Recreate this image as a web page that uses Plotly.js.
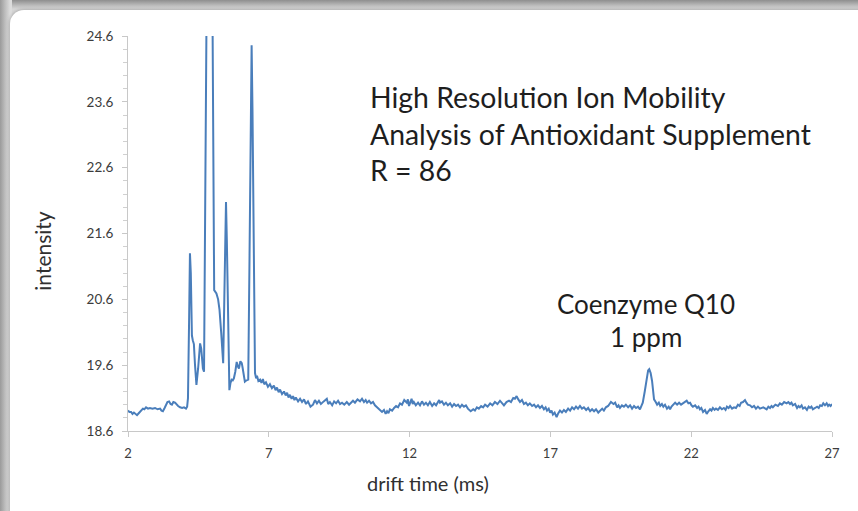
<!DOCTYPE html>
<html>
<head>
<meta charset="utf-8">
<script src="https://cdn.plot.ly/plotly-3.0.1.min.js"></script>
<style>
  html, body { margin: 0; padding: 0; width: 858px; height: 511px; overflow: hidden; }
  body { background: linear-gradient(to bottom, #8e8e8e 0px, #b8b8b8 5px, #d6d6d6 9px, #d6d6d6 100%); position: relative; }
  #side { position: absolute; left: 0; top: 0; width: 12px; height: 511px;
          background: linear-gradient(to right, #9a9a9a 0px, #bdbdbd 5px, #dcdcdc 10px); }
  #panel { position: absolute; left: 10px; top: 10px; width: 870px; height: 520px;
           background: #ffffff; border-radius: 14px; box-shadow: 0 0 3px 1px rgba(0,0,0,0.18); }
  #chart { position: absolute; left: 0; top: 0; width: 858px; height: 511px; }
</style>
</head>
<body>
<div id="side"></div>
<div id="panel"></div>
<div id="chart"></div>
<script>
// drift time (ms)
const driftTime = [
  2.00, 2.05, 2.11, 2.16, 2.21, 2.27, 2.32, 2.38, 2.43, 2.48,
  2.53, 2.58, 2.64, 2.71, 2.78, 2.87, 2.96, 3.05, 3.14, 3.19,
  3.24, 3.30, 3.35, 3.40, 3.46, 3.51, 3.56, 3.61, 3.67, 3.72,
  3.78, 3.85, 3.92, 3.99, 4.06, 4.10, 4.13, 4.17, 4.20, 4.23,
  4.27, 4.30, 4.34, 4.38, 4.43, 4.49, 4.56, 4.60, 4.63, 4.66,
  4.70, 4.79, 4.89, 5.00, 5.06, 5.10, 5.14, 5.20, 5.25, 5.31,
  5.38, 5.42, 5.48, 5.51, 5.54, 5.60, 5.64, 5.68, 5.72, 5.76,
  5.81, 5.86, 5.90, 5.94, 5.99, 6.04, 6.07, 6.10, 6.15, 6.21,
  6.27, 6.31, 6.35, 6.39, 6.42, 6.46,
  6.51, 6.55, 6.58, 6.63, 6.69, 6.74, 6.79, 6.84, 6.90, 6.97,
  7.04, 7.11, 7.18, 7.24, 7.29, 7.35, 7.40, 7.47, 7.54, 7.60,
  7.65, 7.70, 7.75, 7.81, 7.86, 7.91, 7.96, 8.04, 8.11, 8.18,
  8.25, 8.32, 8.39, 8.48, 8.57, 8.64, 8.71, 8.78, 8.85, 8.95,
  9.06, 9.11, 9.17, 9.25, 9.32, 9.39, 9.46, 9.53, 9.60, 9.68,
  9.77, 9.85, 9.92, 9.99, 10.06, 10.15, 10.24, 10.31, 10.38, 10.44,
  10.49, 10.56, 10.63, 10.70, 10.77, 10.86, 10.95, 11.02, 11.09, 11.15,
  11.20, 11.25, 11.30, 11.38, 11.45, 11.52, 11.59, 11.66, 11.73, 11.81,
  11.90, 11.94, 11.98, 12.03, 12.07, 12.11, 12.15, 12.22, 12.30, 12.37,
  12.44, 12.51, 12.58, 12.65, 12.72, 12.80, 12.87, 12.94, 13.01, 13.05,
  13.08, 13.15, 13.22, 13.29, 13.36, 13.44, 13.51, 13.58, 13.65, 13.72,
  13.79, 13.86, 13.93, 14.00, 14.07, 14.17, 14.26, 14.32, 14.39, 14.46,
  14.54, 14.61, 14.68, 14.77, 14.86, 14.94, 15.03, 15.12, 15.21, 15.28,
  15.35, 15.44, 15.53, 15.60, 15.68, 15.74, 15.80, 15.86, 15.92, 15.99,
  16.06, 16.13, 16.20, 16.27, 16.35, 16.42, 16.49, 16.56, 16.63, 16.70,
  16.77, 16.83, 16.88, 16.94, 16.99, 17.04, 17.09, 17.15, 17.22, 17.28,
  17.34, 17.41, 17.48, 17.55, 17.63, 17.70, 17.77, 17.84, 17.91, 17.98,
  18.05, 18.12, 18.19, 18.27, 18.34, 18.41, 18.48, 18.55, 18.62, 18.70,
  18.77, 18.84, 18.90, 18.97, 19.05, 19.15, 19.24, 19.30, 19.37, 19.42,
  19.47, 19.54, 19.61, 19.68, 19.76, 19.83, 19.90, 19.97, 20.04, 20.11,
  20.18, 20.23, 20.28, 20.35, 20.42, 20.47, 20.51, 20.56, 20.61, 20.65,
  20.68, 20.74, 20.79, 20.85, 20.90, 20.96, 21.01, 21.07, 21.14, 21.20,
  21.25, 21.30, 21.35, 21.43, 21.50, 21.57, 21.64, 21.74, 21.84, 21.90,
  21.96, 22.01, 22.06, 22.14, 22.21, 22.26, 22.31, 22.36, 22.42, 22.49,
  22.55, 22.61, 22.67, 22.72, 22.77, 22.83, 22.88, 22.95, 23.02, 23.09,
  23.16, 23.22, 23.27, 23.33, 23.38, 23.45, 23.52, 23.59, 23.66, 23.72,
  23.77, 23.84, 23.91, 23.96, 24.01, 24.09, 24.16, 24.23, 24.30, 24.37,
  24.44, 24.56, 24.68, 24.74, 24.80, 24.85, 24.90, 24.99, 25.08, 25.15,
  25.22, 25.30, 25.39, 25.45, 25.51, 25.56, 25.61, 25.69, 25.76, 25.81,
  25.86, 25.92, 25.97, 26.04, 26.11, 26.17, 26.22, 26.27, 26.32, 26.40,
  26.47, 26.53, 26.58, 26.64, 26.69, 26.75, 26.81, 26.86, 26.90, 26.95,
  27.00
];
// intensity
const intensity = [
  18.91, 18.89, 18.89, 18.86, 18.88, 18.85, 18.84, 18.87, 18.89, 18.91,
  18.94, 18.93, 18.96, 18.94, 18.95, 18.94, 18.95, 18.93, 18.94, 18.91,
  18.90, 18.95, 19.00, 19.04, 19.05, 19.01, 19.00, 19.04, 19.03, 19.00,
  18.98, 18.96, 18.95, 18.96, 18.94, 18.97, 19.10, 20.30, 21.30, 21.00,
  20.05, 19.98, 19.92, 19.60, 19.30, 19.55, 19.93, 19.85, 19.70, 19.55,
  19.50, 25.00, 27.00, 25.00, 20.74, 20.72, 20.69, 20.60, 20.44, 20.09,
  19.63, 20.60, 22.08, 21.50, 20.85, 19.22, 19.33, 19.38, 19.37, 19.40,
  19.50, 19.65, 19.58, 19.55, 19.66, 19.63, 19.56, 19.50, 19.35, 19.37,
  19.38, 21.00, 23.50, 24.46, 23.50, 21.00,
  19.48, 19.40, 19.44, 19.36, 19.38, 19.33, 19.39, 19.31, 19.34, 19.27,
  19.31, 19.25, 19.29, 19.22, 19.26, 19.19, 19.23, 19.16, 19.20, 19.14,
  19.18, 19.11, 19.15, 19.09, 19.13, 19.07, 19.11, 19.05, 19.09, 19.04,
  19.08, 19.01, 19.05, 18.97, 19.00, 19.07, 19.02, 19.06, 19.01, 19.05,
  19.09, 19.01, 19.04, 18.99, 19.05, 19.02, 19.06, 19.01, 19.03, 19.00,
  19.04, 19.00, 19.03, 19.06, 19.03, 19.08, 19.05, 19.09, 19.04, 19.07,
  19.03, 19.06, 19.02, 19.04, 18.99, 18.95, 18.92, 18.89, 18.92, 18.86,
  18.90, 18.87, 18.93, 18.91, 18.95, 18.98, 18.96, 19.02, 19.00, 19.07,
  19.03, 19.08, 18.98, 19.04, 19.09, 19.01, 19.04, 18.99, 19.03, 18.99,
  19.05, 19.00, 19.03, 18.99, 19.04, 18.98, 19.02, 18.99, 19.04, 19.07,
  19.03, 19.05, 19.00, 19.03, 18.99, 19.02, 18.97, 19.01, 18.98, 19.00,
  18.96, 19.00, 18.97, 18.99, 18.94, 18.90, 18.93, 18.91, 18.96, 18.94,
  18.98, 18.96, 19.00, 18.97, 19.02, 18.99, 19.04, 19.01, 19.06, 19.02,
  18.99, 19.04, 19.06, 19.04, 19.10, 19.09, 19.13, 19.08, 19.04, 19.07,
  19.01, 19.03, 18.99, 19.02, 18.98, 19.00, 18.96, 18.99, 18.95, 18.98,
  18.93, 18.96, 18.91, 18.94, 18.88, 18.91, 18.85, 18.88, 18.81, 18.87,
  18.91, 18.88, 18.92, 18.89, 18.94, 18.91, 18.96, 18.93, 18.97, 18.94,
  18.98, 18.94, 18.96, 18.92, 18.95, 18.90, 18.93, 18.90, 18.93, 18.88,
  18.91, 18.94, 18.91, 18.96, 18.98, 19.04, 19.01, 19.03, 18.96, 18.99,
  18.95, 18.99, 18.97, 19.00, 18.96, 18.99, 18.94, 18.98, 18.95, 18.97,
  18.93, 18.97, 19.03, 19.20, 19.43, 19.52, 19.54, 19.48, 19.36, 19.20,
  19.08, 19.04, 19.00, 19.03, 18.98, 19.01, 18.97, 19.00, 18.94, 18.97,
  18.93, 18.97, 19.00, 19.03, 19.00, 19.03, 19.00, 19.03, 19.06, 19.02,
  19.03, 18.99, 18.97, 18.99, 18.95, 18.97, 18.93, 18.95, 18.89, 18.92,
  18.86, 18.90, 18.93, 18.91, 18.95, 18.92, 18.94, 18.92, 18.96, 18.93,
  18.95, 18.92, 18.97, 18.95, 18.98, 18.94, 18.96, 18.95, 19.00, 18.98,
  19.03, 19.04, 19.07, 19.03, 19.00, 18.99, 18.96, 18.98, 18.94, 18.97,
  18.94, 18.96, 18.93, 18.97, 18.95, 18.98, 18.96, 19.00, 18.98, 19.02,
  19.00, 19.04, 19.02, 19.04, 19.01, 19.03, 18.99, 19.01, 18.95, 18.98,
  18.96, 18.99, 18.94, 18.96, 18.92, 18.97, 18.95, 18.97, 18.93, 18.95,
  18.97, 18.95, 18.99, 18.98, 19.02, 18.99, 19.02, 18.98, 19.00, 18.98,
  19.01
];
const xTickVals = [2, 7, 12, 17, 22, 27];
const xTickText = ['2', '7', '12', '17', '22', '27'];
const yTickVals = [18.6, 19.6, 20.6, 21.6, 22.6, 23.6, 24.6];
const yTickText = ['18.6', '19.6', '20.6', '21.6', '22.6', '23.6', '24.6'];
const titleLines = ['High Resolution Ion Mobility', 'Analysis of Antioxidant Supplement', 'R = 86'];
const peakLabel = ['Coenzyme Q10', '1 ppm'];
const xTitle = 'drift time (ms)';
const yTitle = 'intensity';

const FONT = 'Lato, "Open Sans", sans-serif';
const trace = {
  x: driftTime, y: intensity, type: 'scatter', mode: 'lines',
  line: { color: '#4a7ebb', width: 2 }, hoverinfo: 'skip'
};
const titleY = [23.67, 23.11, 22.565];
const annotations = titleLines.map((t, i) => ({
  text: t, x: 10.54, y: titleY[i], xref: 'x', yref: 'y', xanchor: 'left', yanchor: 'middle',
  showarrow: false, font: { family: FONT, size: 28.4, color: '#1e1e1e' }
}));
const peakY = [20.53, 20.03];
peakLabel.forEach((t, i) => annotations.push({
  text: t, x: 20.38, y: peakY[i], xref: 'x', yref: 'y', xanchor: 'center', yanchor: 'middle',
  showarrow: false, font: { family: FONT, size: 26, color: '#1e1e1e' }
}));
// axis titles (placed off-centre as in the original)
annotations.push({
  text: xTitle, x: 0.426, y: -0.132, xref: 'paper', yref: 'paper', xanchor: 'center', yanchor: 'middle',
  showarrow: false, font: { family: FONT, size: 20, color: '#303030' }
});
annotations.push({
  text: yTitle, x: -0.121, y: 0.456, xref: 'paper', yref: 'paper', xanchor: 'center', yanchor: 'middle',
  textangle: -90, showarrow: false, font: { family: FONT, size: 21, color: '#303030' }
});

const layout = {
  width: 858, height: 511,
  margin: { l: 128, r: 26, t: 36, b: 80 },
  paper_bgcolor: 'rgba(0,0,0,0)', plot_bgcolor: 'rgba(0,0,0,0)',
  showlegend: false,
  xaxis: {
    range: [2, 27], tickvals: xTickVals, ticktext: xTickText,
    showgrid: false, zeroline: false, showline: true, linecolor: '#c8c8c8', linewidth: 1,
    ticks: 'outside', ticklen: 5, tickcolor: '#c8c8c8', ticklabelstandoff: 5,
    tickfont: { family: FONT, size: 13, color: '#3c3c3c' }
  },
  yaxis: {
    range: [18.6, 24.6], tickvals: yTickVals, ticktext: yTickText,
    showgrid: false, zeroline: false, showline: true, linecolor: '#c8c8c8', linewidth: 1,
    ticks: 'outside', ticklen: 5, tickcolor: '#c8c8c8', ticklabelstandoff: 6,
    minor: { dtick: 0.2, tick0: 18.6, ticks: 'outside', ticklen: 4, tickcolor: '#d0d0d0', showgrid: false },
    tickfont: { family: FONT, size: 13.5, color: '#3c3c3c' }
  },
  annotations: annotations
};
Plotly.newPlot('chart', [trace], layout, { staticPlot: true, displayModeBar: false });
</script>
</body>
</html>
